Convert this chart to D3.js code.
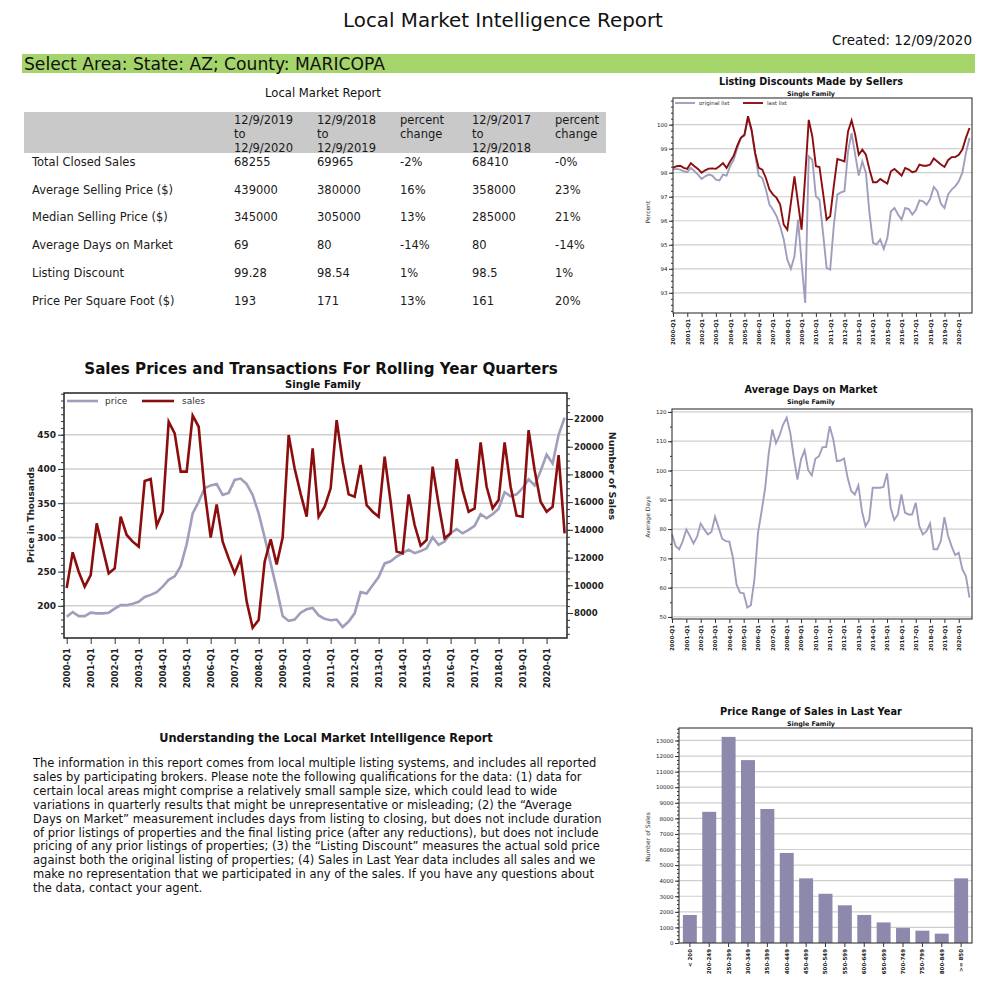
<!DOCTYPE html>
<html>
<head>
<meta charset="utf-8">
<script src="https://cdn.jsdelivr.net/npm/d3@7"></script>
<style>
  body { margin: 0; background: #fff; }
  svg { display: block; }
  text { font-family: "DejaVu Sans", Verdana, sans-serif; }
</style>
</head>
<body>
<svg id="page" width="1000" height="1000"></svg>
<script>
// ---- data ----
var tickYears = ['2000-Q1','2001-Q1','2002-Q1','2003-Q1','2004-Q1','2005-Q1','2006-Q1','2007-Q1','2008-Q1','2009-Q1',
  '2010-Q1','2011-Q1','2012-Q1','2013-Q1','2014-Q1','2015-Q1','2016-Q1','2017-Q1','2018-Q1','2019-Q1','2020-Q1'];

// rolling year quarters 2000-Q1 .. 2020-Q4
var priceK = [184,191,185,185, 190,189,189,190, 196,201,201,203, 206,213,216,220, 228,238,243,258,
  290,335,352,372, 376,378,362,365, 384,386,378,362, 335,300,262,225, 185,178,180,190,
  195,197,186,181, 179,180,169,177, 189,220,218,230, 242,262,265,272, 277,282,277,280,
  284,300,289,294, 306,312,306,311, 317,334,328,334, 342,366,360,363, 372,385,376,397,
  421,408,450,475];
var salesCount = [9800,12380,10980,9900, 10740,14470,12670,10860, 11220,14950,13630,13150, 12790,17520,17670,14300,
  15310,21800,20960,18200, 18200,22240,21440,16750, 13440,15840,13150,11940, 10860,11940,8820,6940,
  7500,11700,13310,11510, 13440,20840,18430,16600, 14950,19880,14950,15670, 17000,21920,18920,16560,
  16390,18680,15790,15310, 14950,19280,16030,12430, 12300,16560,14350,12860, 13270,18560,15840,13390,
  13750,19110,16870,15310, 15550,20310,17110,15550, 16150,20310,17110,15020, 14950,21200,18320,16030,
  15310,15670,19400,13750];

var originalList = [98.13,98.16,98.13,98.06, 98.02,98.20,98.06,97.92, 97.74,97.85,97.92,97.88, 97.71,97.68,97.92,97.88,
  98.27,98.54,99.03,99.45, 99.54,100.28,99.72,98.75, 97.88,97.78,97.30,96.67, 96.46,96.19,95.77,95.22,
  94.38,94.00,94.52,96.05, 94.24,92.58,98.68,98.54, 97.02,96.88,95.49,94.04, 93.97,95.77,97.09,97.18,
  97.23,98.89,99.65,98.75, 97.88,98.47,97.99,96.32, 95.08,95.01,95.22,94.83, 95.28,96.39,96.53,96.26,
  96.05,96.53,96.49,96.26, 96.46,96.85,96.81,96.67, 96.91,97.41,97.23,96.71, 96.53,97.09,97.30,97.43,
  97.64,98.00,98.82,99.45];
var lastList = [98.20,98.27,98.29,98.20, 98.16,98.40,98.27,98.16, 98.00,98.10,98.17,98.18, 98.16,98.27,98.40,98.20,
  98.47,98.71,99.13,99.45, 99.58,100.35,99.79,98.82, 98.20,98.13,97.78,97.30, 97.09,96.95,96.67,95.84,
  95.63,96.74,97.85,96.74, 95.63,97.85,100.20,99.51, 98.27,98.24,97.16,96.05, 96.19,97.43,98.57,98.52,
  98.47,99.72,100.18,99.58, 98.75,98.96,98.75,98.13, 97.60,97.60,97.74,97.64, 97.55,98.06,98.16,98.02,
  97.88,98.20,98.13,98.02, 98.06,98.34,98.29,98.29, 98.34,98.59,98.47,98.34, 98.24,98.52,98.65,98.65,
  98.75,98.96,99.45,99.86];

var avgDays = [78.2,74.2,73.1,75.9, 79.9,77.6,75.1,77.4, 81.9,79.9,78.2,79.0, 84.2,80.5,76.7,75.9,
  75.7,70.2,61.1,58.3, 58.1,53.2,54.0,62.8, 78.8,86.1,94.1,106.0, 114.0,109.3,112.0,115.7,
  118.0,112.8,104.3,96.9, 103.8,106.9,100.1,98.3, 104.0,104.9,108.0,108.0, 115.1,110.6,103.2,103.4,
  104.1,97.5,93.0,91.8, 94.9,86.1,81.0,83.1, 94.1,94.1,94.1,94.4, 99.0,87.3,83.1,85.0,
  91.8,85.6,85.0,85.0, 89.0,81.0,78.2,79.3, 81.9,73.1,73.1,75.9, 84.1,77.8,74.2,71.1,
  71.9,66.3,64.0,56.6];

var priceBins = ['< 200','200-249','250-299','300-349','350-399','400-449','450-499','500-549',
  '550-599','600-649','650-699','700-749','750-799','800-849','>= 850'];
var binSales = [1800,8420,13230,11740,8600,5780,4150,3160,2420,1800,1320,960,790,600,4150];

var tableHead = [['12/9/2019','to','12/9/2020'],['12/9/2018','to','12/9/2019'],['percent','change'],
  ['12/9/2017','to','12/9/2018'],['percent','change']];
var rowLabels = ['Total Closed Sales','Average Selling Price ($)','Median Selling Price ($)',
  'Average Days on Market','Listing Discount','Price Per Square Foot ($)'];
var rowValues = [
  ['68255','69965','-2%','68410','-0%'],
  ['439000','380000','16%','358000','23%'],
  ['345000','305000','13%','285000','21%'],
  ['69','80','-14%','80','-14%'],
  ['99.28','98.54','1%','98.5','1%'],
  ['193','171','13%','161','20%']
];

var noteLines = [
  'The information in this report comes from local multiple listing systems, and includes all reported',
  'sales by participating brokers. Please note the following qualifications for the data: (1) data for',
  'certain local areas might comprise a relatively small sample size, which could lead to wide',
  'variations in quarterly results that might be unrepresentative or misleading; (2) the \u201cAverage',
  'Days on Market\u201d measurement includes days from listing to closing, but does not include duration',
  'of prior listings of properties and the final listing price (after any reductions), but does not include',
  'pricing of any prior listings of properties; (3) the \u201cListing Discount\u201d measures the actual sold price',
  'against both the original listing of properties; (4) Sales in Last Year data includes all sales and we',
  'make no representation that we participated in any of the sales. If you have any questions about',
  'the data, contact your agent.'
];

// ---- helpers ----
var svg = d3.select('#page');
var RED = '#8c0d0d', GRAY = '#a09ebd', GRID = '#cfcfcf', BAR = '#8d89ad';

function txt(x, y, s, size, opts) {
  opts = opts || {};
  var t = svg.append('text')
    .attr('x', x).attr('y', y)
    .attr('text-anchor', opts.anchor || 'start')
    .attr('fill', opts.fill || '#111')
    .style('font-size', size + 'px')
    .style('font-weight', opts.weight || 'normal')
    .text(s);
  if (opts.rotate) t.attr('transform', 'rotate(' + opts.rotate + ',' + x + ',' + y + ')');
  if (opts.width) fitWidth(t, opts.width);
  return t;
}

function fitWidth(t, w) {
  var cur = parseFloat(t.style('font-size'));
  var len = t.node().getComputedTextLength();
  if (len > 0) t.style('font-size', (cur * w / len) + 'px');
}

function styleAxis(ax, size, weight) {
  ax.select('.domain').remove();
  ax.selectAll('line').attr('stroke', '#333');
  ax.selectAll('text').attr('fill', '#222')
    .style('font-size', size + 'px').style('font-weight', weight || 'normal');
}

function rotateLabels(ax, off) {
  ax.selectAll('text')
    .attr('transform', 'rotate(-90)')
    .attr('x', -off).attr('y', 0).attr('dy', '0.35em')
    .style('text-anchor', 'end');
}

// ---- page header ----
txt(503, 27, 'Local Market Intelligence Report', 18, {anchor: 'middle', width: 320});
txt(972, 45, 'Created: 12/09/2020', 12, {anchor: 'end', width: 140});
svg.append('rect').attr('x', 22).attr('y', 54).attr('width', 953).attr('height', 19).attr('fill', '#a5d46b');
txt(24, 70, 'Select Area: State: AZ; County: MARICOPA', 15, {width: 361});

// ---- table ----
txt(323, 97, 'Local Market Report', 11, {anchor: 'middle', width: 116});
svg.append('rect').attr('x', 24).attr('y', 112).attr('width', 582).attr('height', 41).attr('fill', '#c9c9c9');
var colX = [234, 317, 400, 472, 555];
tableHead.forEach(function (h, i) {
  h.forEach(function (s, j) { txt(colX[i], 124 + j * 14, s, 11.5, {fill: '#1a1a1a'}); });
});
rowLabels.forEach(function (s, r) {
  var y = 166 + r * 27.7;
  txt(32, y, s, 11.5, {fill: '#1a1a1a'});
  rowValues[r].forEach(function (v, i) { txt(colX[i], y, v, 11.5, {fill: '#1a1a1a'}); });
});

// ---- main chart: sales prices and transactions ----
(function () {
  var L = 64, R = 567, T = 393, B = 638;
  var x = d3.scaleLinear().domain([-0.45, 83.4]).range([L, R]);
  var yP = d3.scaleLinear().domain([153, 511]).range([B, T]);
  var yS = d3.scaleLinear().domain([6196, 23876]).range([B, T]);
  var g = svg.append('g');
  var pMajor = d3.range(200, 451, 50);

  g.selectAll('line.grid').data(pMajor).join('line').attr('class', 'grid')
    .attr('x1', L).attr('x2', R).attr('y1', yP).attr('y2', yP)
    .attr('stroke', GRID).attr('stroke-width', 1.5);

  g.append('path').datum(priceK)
    .attr('d', d3.line().x(function (d, i) { return x(i); }).y(function (d) { return yP(d); }))
    .attr('fill', 'none').attr('stroke', GRAY).attr('stroke-width', 2.6);
  g.append('path').datum(salesCount)
    .attr('d', d3.line().x(function (d, i) { return x(i); }).y(function (d) { return yS(d); }))
    .attr('fill', 'none').attr('stroke', RED).attr('stroke-width', 2.6);

  g.append('rect').attr('x', L).attr('y', T).attr('width', R - L).attr('height', B - T)
    .attr('fill', 'none').attr('stroke', '#222').attr('stroke-width', 1.5);

  // legend
  g.append('line').attr('x1', 67).attr('x2', 98).attr('y1', 401).attr('y2', 401).attr('stroke', GRAY).attr('stroke-width', 2.6);
  g.append('line').attr('x1', 142).attr('x2', 174).attr('y1', 401).attr('y2', 401).attr('stroke', RED).attr('stroke-width', 2.6);
  txt(105, 404, 'price', 9, {fill: '#333'});
  txt(182, 404, 'sales', 9, {fill: '#333'});

  var ax;
  ax = g.append('g').attr('transform', 'translate(' + L + ',0)')
    .call(d3.axisLeft(yP).tickValues(d3.range(160, 511, 10)).tickSize(3).tickFormat(''));
  styleAxis(ax, 9);
  ax = g.append('g').attr('transform', 'translate(' + L + ',0)')
    .call(d3.axisLeft(yP).tickValues(pMajor).tickSize(6).tickPadding(2));
  styleAxis(ax, 9, 'bold');

  ax = g.append('g').attr('transform', 'translate(' + R + ',0)')
    .call(d3.axisRight(yS).tickValues(d3.range(6500, 23876, 500)).tickSize(3).tickFormat(''));
  styleAxis(ax, 9);
  ax = g.append('g').attr('transform', 'translate(' + R + ',0)')
    .call(d3.axisRight(yS).tickValues(d3.range(8000, 22001, 2000)).tickSize(6).tickPadding(1).tickFormat(d3.format('d')));
  styleAxis(ax, 8.5, 'bold');

  ax = g.append('g').attr('transform', 'translate(0,' + B + ')')
    .call(d3.axisBottom(x).tickValues(d3.range(0, 84, 4)).tickSize(6)
      .tickFormat(function (d, i) { return tickYears[i]; }));
  styleAxis(ax, 8.5, 'bold');
  rotateLabels(ax, 10);

  txt(321, 374, 'Sales Prices and Transactions For Rolling Year Quarters', 16, {anchor: 'middle', weight: 'bold', width: 474});
  txt(323, 388, 'Single Family', 9, {anchor: 'middle', weight: 'bold', width: 76});
  txt(34, 515, 'Price in Thousands', 9, {anchor: 'middle', weight: 'bold', rotate: -90, fill: '#222'});
  txt(609, 476, 'Number of Sales', 9.5, {anchor: 'middle', weight: 'bold', rotate: 90, fill: '#222'});
})();

// ---- small quarterly charts ----
function smallChart(c) {
  var x = d3.scaleLinear().domain(c.xDomain).range([c.L, c.R]);
  var y = d3.scaleLinear().domain(c.yDomain).range([c.B, c.T]);
  var g = svg.append('g');
  g.selectAll('line.grid').data(c.yMajor).join('line').attr('class', 'grid')
    .attr('x1', c.L).attr('x2', c.R).attr('y1', y).attr('y2', y)
    .attr('stroke', GRID).attr('stroke-width', 1.2);
  c.series.forEach(function (s) {
    g.append('path').datum(s.values)
      .attr('d', d3.line().x(function (d, i) { return x(i); }).y(function (d) { return y(d); }))
      .attr('fill', 'none').attr('stroke', s.color).attr('stroke-width', 1.9);
  });
  g.append('rect').attr('x', c.L).attr('y', c.T).attr('width', c.R - c.L).attr('height', c.B - c.T)
    .attr('fill', 'none').attr('stroke', '#333').attr('stroke-width', 1.1);
  var ax;
  ax = g.append('g').attr('transform', 'translate(' + c.L + ',0)')
    .call(d3.axisLeft(y).tickValues(c.yMinor).tickSize(2).tickFormat(''));
  styleAxis(ax, 5.5);
  ax = g.append('g').attr('transform', 'translate(' + c.L + ',0)')
    .call(d3.axisLeft(y).tickValues(c.yMajor).tickSize(4).tickPadding(1.5));
  styleAxis(ax, 5.5);
  ax = g.append('g').attr('transform', 'translate(0,' + c.B + ')')
    .call(d3.axisBottom(x).tickValues(d3.range(0, 84, 4)).tickSize(4)
      .tickFormat(function (d, i) { return tickYears[i]; }));
  styleAxis(ax, 5.5, 'bold');
  rotateLabels(ax, 6);
  txt(c.titleX, c.titleY, c.title, 10, {anchor: 'middle', weight: 'bold', width: c.titleW});
  txt(c.titleX, c.titleY + 10.5, 'Single Family', 6.5, {anchor: 'middle', weight: 'bold', width: 48});
  txt(650, c.ylabY, c.ylab, 6, {anchor: 'middle', rotate: -90, fill: '#333'});
  return g;
}

var disc = smallChart({
  L: 673, R: 972, T: 98, B: 313, xDomain: [0, 83.7], yDomain: [92.16, 101.11],
  yMajor: d3.range(93, 100.5, 1), yMinor: d3.range(92.25, 101.1, 0.25),
  series: [{values: originalList, color: GRAY}, {values: lastList, color: RED}],
  title: 'Listing Discounts Made by Sellers', titleX: 811, titleY: 85, titleW: 184,
  ylab: 'Percent', ylabY: 212
});
disc.append('line').attr('x1', 675).attr('x2', 695).attr('y1', 103).attr('y2', 103).attr('stroke', GRAY).attr('stroke-width', 1.9);
disc.append('line').attr('x1', 743).attr('x2', 763).attr('y1', 103).attr('y2', 103).attr('stroke', RED).attr('stroke-width', 1.9);
txt(699, 105, 'original list', 5.5, {fill: '#333'});
txt(767, 105, 'last list', 5.5, {fill: '#333'});

smallChart({
  L: 672, R: 972, T: 409, B: 619, xDomain: [0, 83.7], yDomain: [49.3, 121],
  yMajor: d3.range(50, 121, 10), yMinor: d3.range(50, 121, 5),
  series: [{values: avgDays, color: GRAY}],
  title: 'Average Days on Market', titleX: 811, titleY: 393, titleW: 133,
  ylab: 'Average Days', ylabY: 517
});

// ---- price range bar chart ----
(function () {
  var L = 679, R = 972, T = 728, B = 943;
  var x = d3.scaleBand().domain(priceBins).range([L, R]).paddingInner(0.28).paddingOuter(0.2);
  var y = d3.scaleLinear().domain([0, 13800]).range([B, T]);
  var g = svg.append('g');
  var major = d3.range(0, 13001, 1000);
  g.selectAll('line.grid').data(major.slice(1)).join('line').attr('class', 'grid')
    .attr('x1', L).attr('x2', R).attr('y1', y).attr('y2', y)
    .attr('stroke', GRID).attr('stroke-width', 1.2);
  g.selectAll('rect.bar').data(binSales).join('rect').attr('class', 'bar')
    .attr('x', function (d, i) { return x(priceBins[i]); })
    .attr('width', x.bandwidth())
    .attr('y', function (d) { return y(d); })
    .attr('height', function (d) { return B - y(d); })
    .attr('fill', BAR);
  g.append('rect').attr('x', L).attr('y', T).attr('width', R - L).attr('height', B - T)
    .attr('fill', 'none').attr('stroke', '#333').attr('stroke-width', 1.1);
  var ax;
  ax = g.append('g').attr('transform', 'translate(' + L + ',0)')
    .call(d3.axisLeft(y).tickValues(d3.range(0, 13800, 250)).tickSize(2).tickFormat(''));
  styleAxis(ax, 5.5);
  ax = g.append('g').attr('transform', 'translate(' + L + ',0)')
    .call(d3.axisLeft(y).tickValues(major).tickSize(4).tickPadding(1.5).tickFormat(d3.format('d')));
  styleAxis(ax, 5.5);
  ax = g.append('g').attr('transform', 'translate(0,' + B + ')')
    .call(d3.axisBottom(x).tickSize(4));
  styleAxis(ax, 5.5, 'bold');
  rotateLabels(ax, 6);
  txt(811, 715, 'Price Range of Sales in Last Year', 10, {anchor: 'middle', weight: 'bold', width: 182});
  txt(811, 725.5, 'Single Family', 6.5, {anchor: 'middle', weight: 'bold', width: 48});
  txt(650, 837, 'Number of Sales', 6, {anchor: 'middle', rotate: -90, fill: '#333'});
})();

// ---- explanation ----
txt(326, 742, 'Understanding the Local Market Intelligence Report', 11, {anchor: 'middle', weight: 'bold', width: 334});
(function () {
  var first = txt(33, 767, noteLines[0], 11);
  fitWidth(first, 564);
  var size = first.style('font-size');
  noteLines.slice(1).forEach(function (s, i) {
    svg.append('text').attr('x', 33).attr('y', 767 + (i + 1) * 13.9)
      .attr('fill', '#111').style('font-size', size).text(s);
  });
})();
</script>
</body>
</html>
